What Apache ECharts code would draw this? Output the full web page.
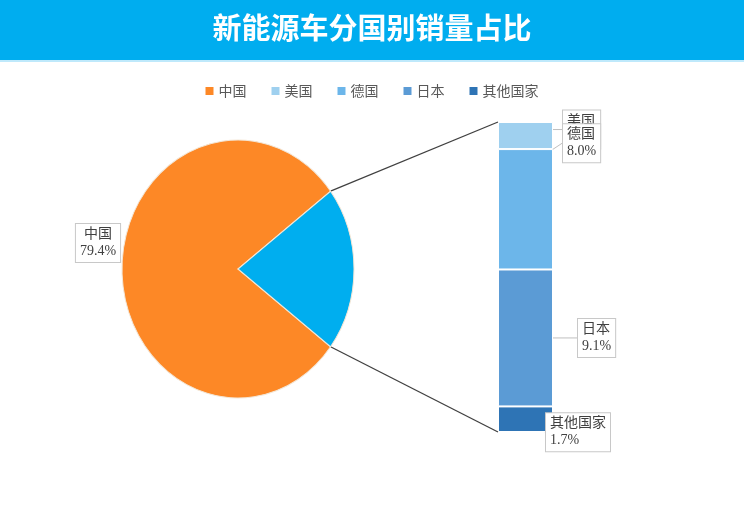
<!DOCTYPE html>
<html>
<head>
<meta charset="utf-8">
<script src="https://cdn.jsdelivr.net/npm/echarts@6/dist/echarts.min.js"></script>
<style>
html,body{margin:0;padding:0;background:#fff;}
#main{width:744px;height:528px;}
</style>
</head>
<body>
<div id="main"></div>
<script>
var titleText = '新能源车分国别销量占比';
var pieNames = ['中国', '其他'];
var pieValues = [79.4, 20.6];
var pieColors = ['#fd8826', '#00aeef'];
var barNames = ['美国', '德国', '日本', '其他国家'];
var barValues = [1.8, 8.0, 9.1, 1.7];
var barColors = ['#9fd0ef', '#6cb6ea', '#5b9bd5', '#2e74b5'];

var myChart = echarts.init(document.getElementById('main'));

// 饼图略呈椭圆
var pieCenter = [238, 269];
var pieRx = 116, pieRy = 129;
var gridLeft = 498, gridWidth = 55, gridTop = 122, gridBottom = 96;

var pieTotal = pieValues[0] + pieValues[1];
var otherRad = pieValues[1] / pieTotal * Math.PI * 2;

// 标签偏移 [dx, dy]
var labelShift = [[5, -6], [5, -66], [20, 0], [-12, 13]];

var labelFont = {
    fontFamily: 'Liberation Serif, Noto Sans CJK SC',
    fontSize: 14,
    lineHeight: 17,
    color: '#404040',
    backgroundColor: '#fff',
    borderColor: '#c8c8c8',
    borderWidth: 1,
    padding: [2, 4]
};

var titleGraphic = [
    {type: 'rect', left: 0, top: 0, shape: {width: 744, height: 60}, style: {fill: '#00adef'}, z: 0},
    {type: 'rect', left: 0, top: 60, shape: {width: 744, height: 2}, style: {fill: '#bfe9fb'}, z: 0},
    {
        type: 'text', left: 'center', top: 13, z: 1,
        style: {text: titleText, fill: '#fff', font: 'bold 29px "Noto Sans CJK SC"'}
    }
];

var series = [];
// 饼图 (自定义扇形，纵向拉伸)
series.push({
    type: 'custom',
    name: '中国',
    coordinateSystem: 'none',
    silent: true,
    data: pieValues.map(function (v, i) { return {name: pieNames[i], value: v}; }),
    renderItem: function (params, api) {
        var i = params.dataIndex;
        var ang = api.value(0) / pieTotal * Math.PI * 2;
        var start, end;
        if (i === 1) {
            start = -otherRad / 2; end = otherRad / 2;
        } else {
            start = otherRad / 2; end = otherRad / 2 + ang;
        }
        var children = [{
            type: 'sector',
            x: pieCenter[0], y: pieCenter[1],
            scaleY: pieRy / pieRx,
            shape: {cx: 0, cy: 0, r0: 0, r: pieRx, startAngle: start, endAngle: end, clockwise: true},
            style: {fill: pieColors[i], stroke: '#f3e6d6', lineWidth: 1}
        }];
        if (i === 0) {
            children.push({
                type: 'text',
                x: 98, y: 243,
                style: {
                    text: pieNames[0] + '\n' + api.value(0).toFixed(1) + '%',
                    align: 'center', verticalAlign: 'middle',
                    font: '14px "Liberation Serif", "Noto Sans CJK SC"',
                    lineHeight: 17,
                    fill: '#404040',
                    backgroundColor: '#fff',
                    borderColor: '#c8c8c8',
                    borderWidth: 1,
                    padding: [2, 4]
                },
                z2: 10
            });
        }
        return {type: 'group', children: children};
    }
});

barNames.forEach(function (name, i) {
    series.push({
        type: 'bar',
        name: name,
        stack: 'total',
        barWidth: '100%',
        silent: true,
        itemStyle: {color: barColors[i], borderColor: '#fff', borderWidth: 1},
        label: Object.assign({
            show: true,
            position: 'right',
            formatter: function (p) {
                return p.seriesName + '\n' + p.value.toFixed(1) + '%';
            }
        }, labelFont),
        labelLine: {show: true, lineStyle: {color: '#bfbfbf', width: 1}},
        labelLayout: {dx: labelShift[i][0], dy: labelShift[i][1]},
        data: [barValues[i]]
    });
});

var barTotal = barValues.reduce(function (a, b) { return a + b; }, 0);

option = {
    backgroundColor: '#fff',
    animation: false,
    legend: {
        top: 79,
        left: 'center',
        itemWidth: 8,
        itemHeight: 8,
        itemGap: 25,
        icon: 'rect',
        itemStyle: {borderWidth: 0},
        textStyle: {fontSize: 14, color: '#595959', fontFamily: 'Noto Sans CJK SC'},
        data: [
            {name: '中国', itemStyle: {color: pieColors[0]}},
            '美国', '德国', '日本', '其他国家'
        ]
    },
    grid: {left: gridLeft, width: gridWidth, top: gridTop, bottom: gridBottom},
    xAxis: {type: 'category', data: ['占比'], show: false},
    yAxis: {type: 'value', min: 0, max: barTotal, inverse: true, show: false},
    graphic: titleGraphic,
    series: series
};

myChart.setOption(option);

// 连接线：扇区边缘 -> 柱子上下端
var half = otherRad / 2;
var p1 = [pieCenter[0] + pieRx * Math.cos(half), pieCenter[1] - pieRy * Math.sin(half)];
var p2 = [pieCenter[0] + pieRx * Math.cos(half), pieCenter[1] + pieRy * Math.sin(half)];
var barTop = myChart.convertToPixel({yAxisIndex: 0}, 0);
var barBottom = myChart.convertToPixel({yAxisIndex: 0}, barTotal);

myChart.setOption({
    graphic: titleGraphic.concat([
        {type: 'line', shape: {x1: p1[0], y1: p1[1], x2: gridLeft, y2: barTop}, style: {stroke: '#404040', lineWidth: 1.3}},
        {type: 'line', shape: {x1: p2[0], y1: p2[1], x2: gridLeft, y2: barBottom}, style: {stroke: '#404040', lineWidth: 1.3}}
    ])
});
</script>
</body>
</html>
